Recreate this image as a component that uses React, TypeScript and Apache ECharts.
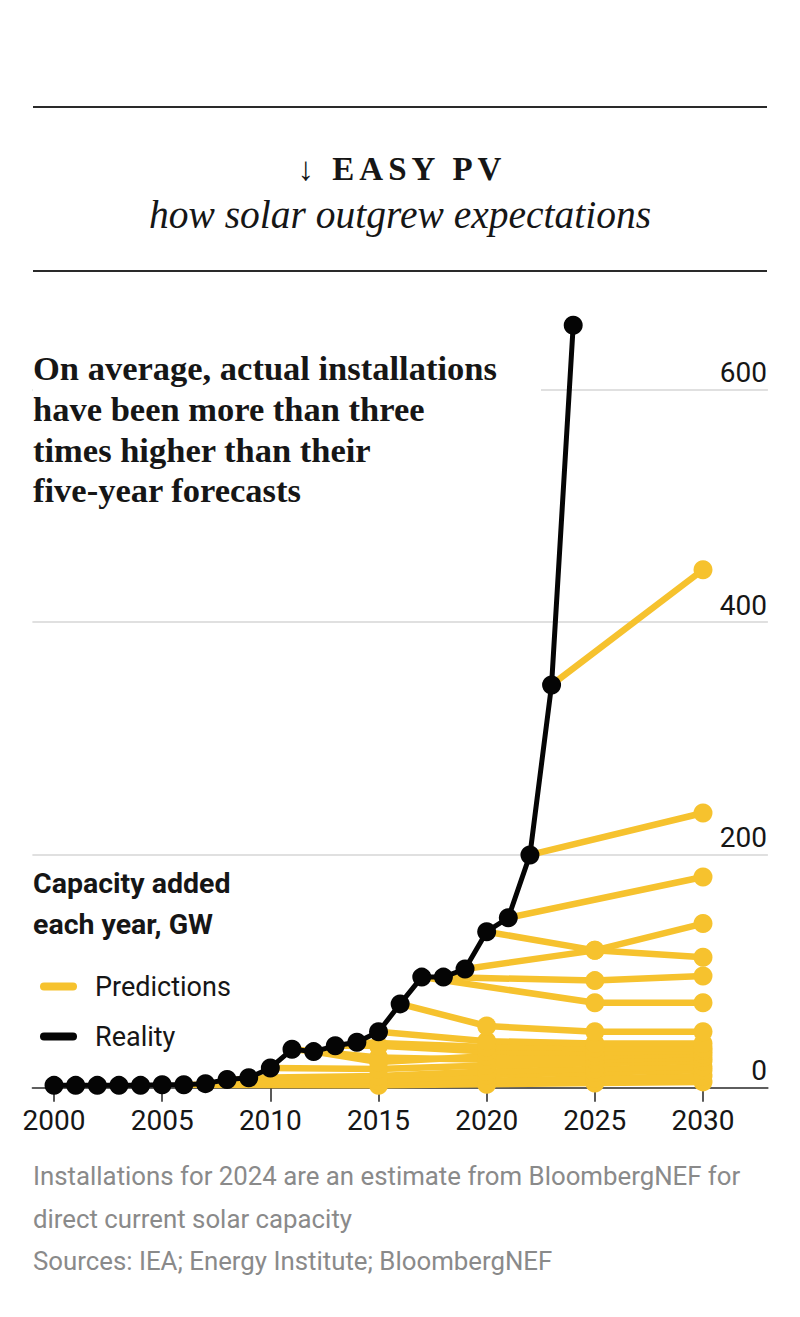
import React, { useEffect, useRef } from "react";
import * as echarts from "echarts";

// Annual solar capacity added worldwide, GW
const years = [
  2000, 2001, 2002, 2003, 2004, 2005, 2006, 2007, 2008, 2009, 2010, 2011, 2012,
  2013, 2014, 2015, 2016, 2017, 2018, 2019, 2020, 2021, 2022, 2023, 2024,
];
const installedGW = [
  2, 2, 2, 2, 2, 2.5, 2.5, 3.5, 7, 8.5, 17, 33, 31, 36, 39, 48, 72, 95, 95,
  102, 134, 146, 200, 346, 655,
];

// Each forecast starts from the installations of the year it was made in
const forecastFrom = [
  2006, 2007, 2008, 2009, 2010, 2011, 2012, 2013, 2014, 2015, 2016, 2017, 2018,
  2019, 2020, 2021, 2022, 2023,
];
const forecastFor2015 = [2, 4, 6, 10, 16, 26, 22, 36, null, null, null, null, null, null, null, null, null, null];
const forecastFor2020 = [3, 6, 11, 14, 19, 24, 27, 31, 35, 40, 53, null, null, null, null, null, null, null];
const forecastFor2025 = [4, 8, 13, 16, 21, 24, 27, 30, 34, 38, 48, 73, 92, 118, 118, null, null, null];
const forecastFor2030 = [5, 10, 15, 18, 23, 26, 29, 32, 34, 38, 48, 73, 96, 141, 112, 181, 236, 445];
const milestoneYears = [2015, 2020, 2025, 2030];

const xTickYears = [2000, 2005, 2010, 2015, 2020, 2025, 2030];

const YELLOW = "#F6C22E";
const BLACK = "#050505";
const GRID = "#d6d6d6";
const INK = "#161616";
const PILL = "path://M4 0 H33 A4 4 0 0 1 33 8 H4 A4 4 0 0 1 4 0 Z";

function buildOption(): echarts.EChartsOption {
  const milestoneValues = [forecastFor2015, forecastFor2020, forecastFor2025, forecastFor2030];

  const predictionSeries = forecastFrom.map((from, i) => {
    const data: any[] = [
      { value: [from, installedGW[years.indexOf(from)]], symbol: "none" },
    ];
    milestoneYears.forEach((m, k) => {
      const v = milestoneValues[k][i];
      if (v != null) data.push([m, v]);
    });
    return {
      name: "Predictions",
      type: "line" as const,
      z: 2,
      silent: true,
      symbol: "circle",
      symbolSize: 19,
      lineStyle: { color: YELLOW, width: 6.5, cap: "round" as const },
      itemStyle: { color: YELLOW, borderWidth: 0 },
      data,
    };
  });

  const realitySeries = {
    name: "Reality",
    type: "line" as const,
    z: 3,
    silent: true,
    symbol: "circle",
    symbolSize: 19,
    lineStyle: { color: BLACK, width: 5 },
    itemStyle: { color: BLACK, borderWidth: 0 },
    data: years.map((y, i) => [y, installedGW[i]]),
  };

  const sans = "Roboto, 'Noto Sans', sans-serif";
  const serif = "'Liberation Serif', 'DejaVu Serif', serif";

  return {
    animation: false,
    backgroundColor: "#ffffff",
    grid: { left: 32.4, right: 32.1, top: 272.9, bottom: 229.3, containLabel: false },
    xAxis: {
      type: "value",
      min: 1999,
      max: 2033,
      axisLine: { show: true, lineStyle: { color: "#333", width: 1.5 } },
      axisTick: {
        show: true,
        customValues: xTickYears,
        length: 14,
        lineStyle: { color: "#222", width: 1.5 },
      },
      axisLabel: {
        customValues: xTickYears,
        margin: 19,
        fontSize: 28,
        fontFamily: sans,
        color: INK,
        formatter: (v: number) => String(v),
      },
      splitLine: { show: false },
    },
    yAxis: {
      type: "value",
      min: 0,
      max: 700,
      interval: 200,
      position: "right",
      axisLine: { show: false },
      axisTick: { show: false },
      axisLabel: {
        inside: true,
        showMaxLabel: false,
        margin: 1,
        verticalAlign: "bottom",
        fontSize: 28,
        lineHeight: 28,
        padding: [0, 0, 3, 0],
        fontFamily: sans,
        color: INK,
      },
      splitLine: {
        show: true,
        showMaxLine: false,
        lineStyle: { color: [GRID, GRID, GRID, GRID, "rgba(0,0,0,0)"], width: 1.5 },
      },
    } as any,
    legend: {
      orient: "vertical",
      left: 40,
      top: 973,
      padding: 0,
      itemWidth: 37,
      itemHeight: 8,
      itemGap: 23,
      selectedMode: false,
      data: [
        { name: "Predictions", icon: PILL, itemStyle: { color: YELLOW } },
        { name: "Reality", icon: PILL, itemStyle: { color: BLACK } },
      ],
      textStyle: {
        fontSize: 27,
        lineHeight: 27,
        fontFamily: sans,
        color: INK,
        padding: [0, 0, 0, 13],
      },
    },
    graphic: [
      {
        type: "line",
        z: 5,
        shape: { x1: 33, y1: 107, x2: 767, y2: 107 },
        style: { stroke: "#2a2a2a", lineWidth: 2 },
      },
      {
        type: "line",
        z: 5,
        shape: { x1: 33, y1: 271, x2: 767, y2: 271 },
        style: { stroke: "#2a2a2a", lineWidth: 2 },
      },
      {
        type: "text",
        z: 5,
        x: 402,
        y: 169,
        style: {
          text: "↓ EASY PV",
          fill: INK,
          fontFamily: serif,
          fontWeight: "bold",
          fontSize: 33,
          align: "center",
          verticalAlign: "middle",
          textAlign: "center",
          textVerticalAlign: "middle",
        },
      },
      {
        type: "text",
        z: 5,
        x: 400,
        y: 215,
        style: {
          text: "how solar outgrew expectations",
          fill: INK,
          fontFamily: serif,
          fontStyle: "italic",
          fontSize: 39.5,
          align: "center",
          verticalAlign: "middle",
          textAlign: "center",
          textVerticalAlign: "middle",
        },
      },
      {
        type: "rect",
        z: 1,
        shape: { x: 33, y: 340, width: 508, height: 172 },
        style: { fill: "#ffffff" },
      },
      {
        type: "text",
        z: 5,
        x: 33,
        y: 348,
        style: {
          text:
            "On average, actual installations\nhave been more than three\ntimes higher than their\nfive-year forecasts",
          fill: INK,
          fontFamily: serif,
          fontWeight: "bold",
          fontSize: 34.5,
          lineHeight: 40.6,
          align: "left",
          verticalAlign: "top",
          textAlign: "left",
          textVerticalAlign: "top",
        },
      },
      {
        type: "text",
        z: 5,
        x: 33,
        y: 863,
        style: {
          text: "Capacity added\neach year, GW",
          fill: INK,
          fontFamily: sans,
          fontWeight: "bold",
          fontSize: 28.5,
          lineHeight: 41,
          align: "left",
          verticalAlign: "top",
          textAlign: "left",
          textVerticalAlign: "top",
        },
      },
      {
        type: "text",
        z: 5,
        x: 33,
        y: 1155,
        style: {
          text:
            "Installations for 2024 are an estimate from BloombergNEF for\ndirect current solar capacity\nSources: IEA; Energy Institute; BloombergNEF",
          fill: "#8a8a8a",
          fontFamily: sans,
          fontSize: 25.8,
          lineHeight: 42.5,
          align: "left",
          verticalAlign: "top",
          textAlign: "left",
          textVerticalAlign: "top",
        },
      },
    ],
    series: [...predictionSeries, realitySeries] as any,
  };
}

export default function App() {
  const ref = useRef<HTMLDivElement>(null);

  useEffect(() => {
    document.body.style.margin = "0";
    if (!ref.current) return;
    const chart = echarts.init(ref.current, undefined, { renderer: "svg" });
    chart.setOption(buildOption());
    return () => chart.dispose();
  }, []);

  return (
    <>
      <style>{"svg text[style*='33px'] { letter-spacing: 5px; }"}</style>
      <div ref={ref} style={{ width: 800, height: 1317, background: "#fff" }} />
    </>
  );
}
